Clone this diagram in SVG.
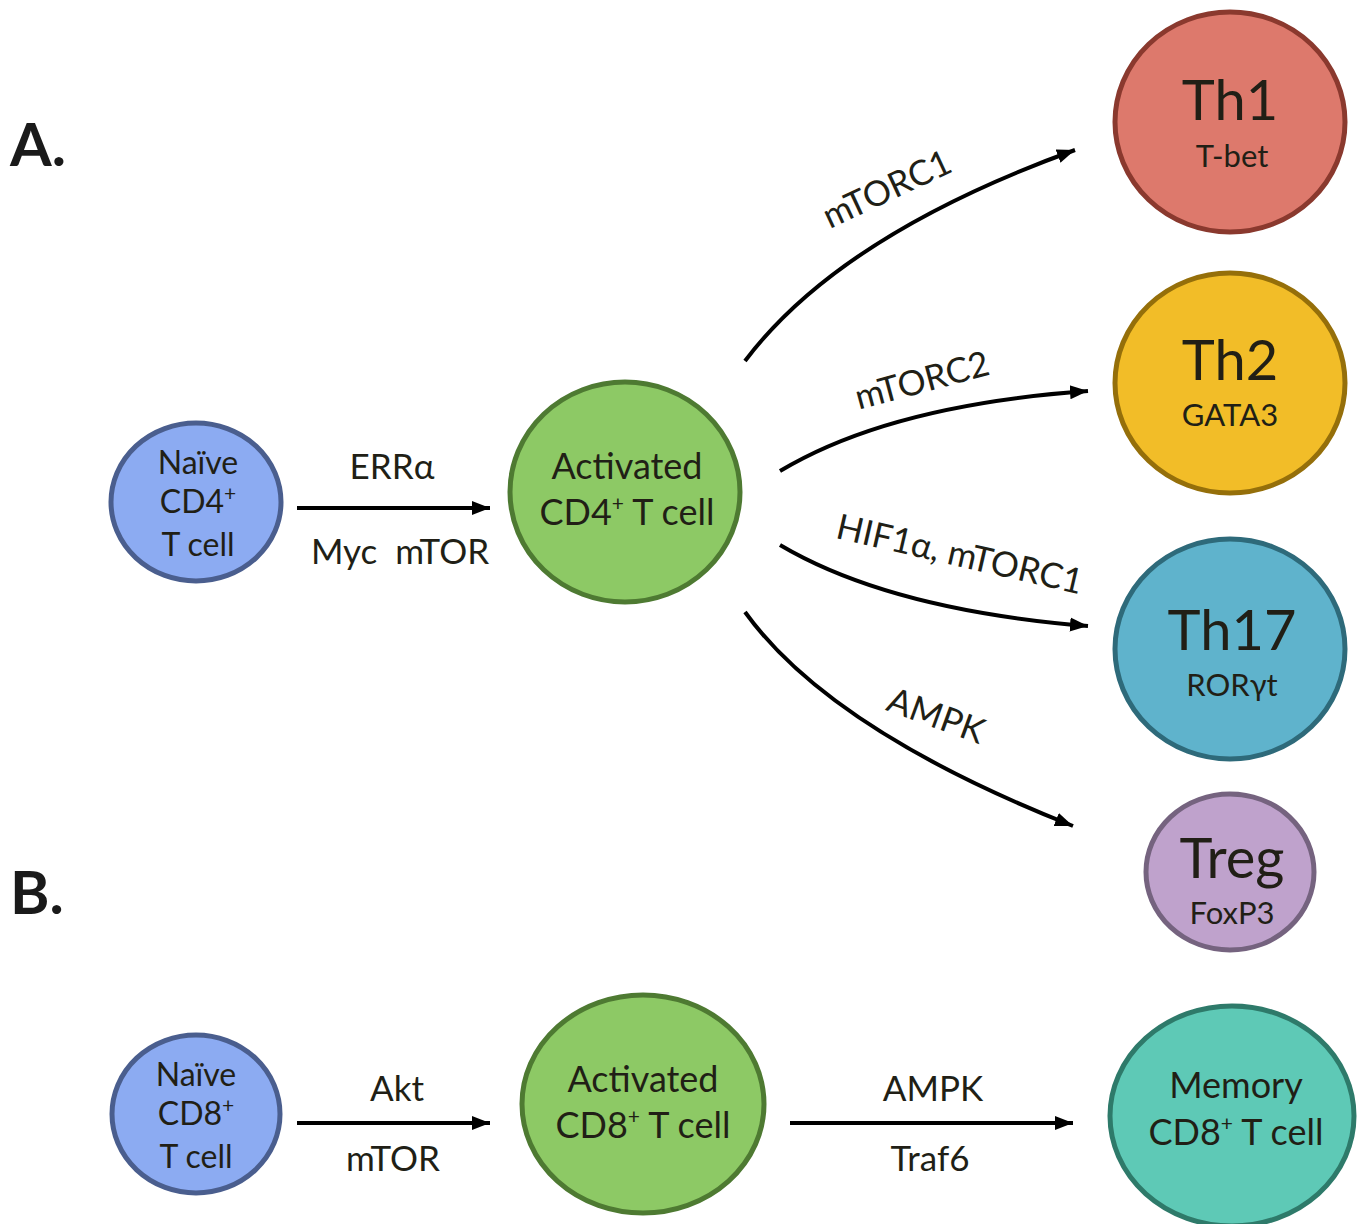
<svg xmlns="http://www.w3.org/2000/svg" width="1360" height="1224" viewBox="0 0 1360 1224">
<defs>
<marker id="ah" markerUnits="userSpaceOnUse" markerWidth="20" markerHeight="16" refX="18" refY="8" orient="auto">
<path d="M0,1 L18,8 L0,15 Z" fill="#000"/>
</marker>
<style>
text{font-family:Lato,"Open Sans","Liberation Sans",sans-serif;fill:#211f16;text-anchor:middle}
.t30{font-size:32px}
.e{font-size:35px}
.t34{font-size:36px}
.big{font-size:56px}
.sub{font-size:31px}
.lbl{font-size:60px;font-weight:bold;text-anchor:start;fill:#1a1a1a}
.node{stroke-width:5}
.conn path{fill:none;stroke:#000;stroke-width:4;marker-end:url(#ah)}
.sup{font-size:21px}
</style>
</defs>
<rect width="1360" height="1224" fill="#fff"/>
<text class="lbl" x="10" y="166">A.</text>
<text class="lbl" x="10" y="914">B.</text>

<g id="conn" class="conn">
<path d="M297,508 L490,508"/>
<path d="M745,361 Q840,235 1075,150"/>
<path d="M780,471 Q890,405 1088,391"/>
<path d="M780,545 Q890,610 1088,626"/>
<path d="M745,612 Q830,730 1073,826"/>
<path d="M297,1123 L490,1123"/>
<path d="M790,1123 L1073,1123"/>
</g>
<g id="conn-labels">
<text class="e" x="392" y="479">ERRα</text>
<text class="e" x="400" y="564" xml:space="preserve">Myc  mTOR</text>
<text class="e" transform="translate(892,200) rotate(-25)">mTORC1</text>
<text class="e" transform="translate(925,392) rotate(-15)">mTORC2</text>
<text class="e" transform="translate(957,566) rotate(13)">HIF1α, mTORC1</text>
<text class="e" transform="translate(932,727) rotate(20)">AMPK</text>
<text class="e" x="397" y="1101">Akt</text>
<text class="e" x="393" y="1171">mTOR</text>
<text class="e" x="933" y="1101">AMPK</text>
<text class="e" x="930" y="1171">Traf6</text>
</g>

<g id="naive-cd4">
<ellipse class="node" cx="196" cy="502" rx="85" ry="79" fill="#8cabf2" stroke="#4a5e8e"/>
<text class="t30" x="198" y="474">Naïve</text>
<text class="t30" x="198" y="513">CD4<tspan class="sup" dy="-12">+</tspan></text>
<text class="t30" x="198" y="556">T cell</text>
</g>
<g id="activated-cd4">
<ellipse class="node" cx="625" cy="492" rx="115" ry="110" fill="#8dc965" stroke="#4e7a32"/>
<text class="t34" x="627" y="479">Activated</text>
<text class="t34" x="627" y="525">CD4<tspan class="sup" dy="-14">+</tspan><tspan dy="14"> T cell</tspan></text>
</g>
<g id="th1">
<ellipse class="node" cx="1230" cy="122" rx="115" ry="110" fill="#dd796c" stroke="#8a392e"/>
<text class="big" x="1230" y="120">Th1</text>
<text class="sub" x="1232" y="167">T-bet</text>
</g>
<g id="th2">
<ellipse class="node" cx="1230" cy="383" rx="115" ry="110" fill="#f2bd28" stroke="#956f0a"/>
<text class="big" x="1230" y="380">Th2</text>
<text class="sub" x="1230" y="426">GATA3</text>
</g>
<g id="th17">
<ellipse class="node" cx="1230" cy="649" rx="115" ry="110" fill="#5fb3cc" stroke="#2e6a7a"/>
<text class="big" x="1232" y="650">Th17</text>
<text class="sub" x="1232" y="696">RORγt</text>
</g>
<g id="treg">
<ellipse class="node" cx="1230" cy="872" rx="84" ry="78" fill="#bfa2cc" stroke="#75637f"/>
<text class="big" x="1232" y="878">Treg</text>
<text class="sub" x="1232" y="924">FoxP3</text>
</g>
<g id="naive-cd8">
<ellipse class="node" cx="196" cy="1114" rx="84" ry="79" fill="#8cabf2" stroke="#4a5e8e"/>
<text class="t30" x="196" y="1086">Naïve</text>
<text class="t30" x="196" y="1125">CD8<tspan class="sup" dy="-12">+</tspan></text>
<text class="t30" x="196" y="1168">T cell</text>
</g>
<g id="activated-cd8">
<ellipse class="node" cx="643" cy="1104" rx="121" ry="109" fill="#8dc965" stroke="#4e7a32"/>
<text class="t34" x="643" y="1092">Activated</text>
<text class="t34" x="643" y="1138">CD8<tspan class="sup" dy="-14">+</tspan><tspan dy="14"> T cell</tspan></text>
</g>
<g id="memory-cd8">
<ellipse class="node" cx="1232" cy="1116" rx="122" ry="110" fill="#5ec9b6" stroke="#2e7a6a"/>
<text class="t34" x="1236" y="1098">Memory</text>
<text class="t34" x="1236" y="1145">CD8<tspan class="sup" dy="-14">+</tspan><tspan dy="14"> T cell</tspan></text>
</g>
</svg>
